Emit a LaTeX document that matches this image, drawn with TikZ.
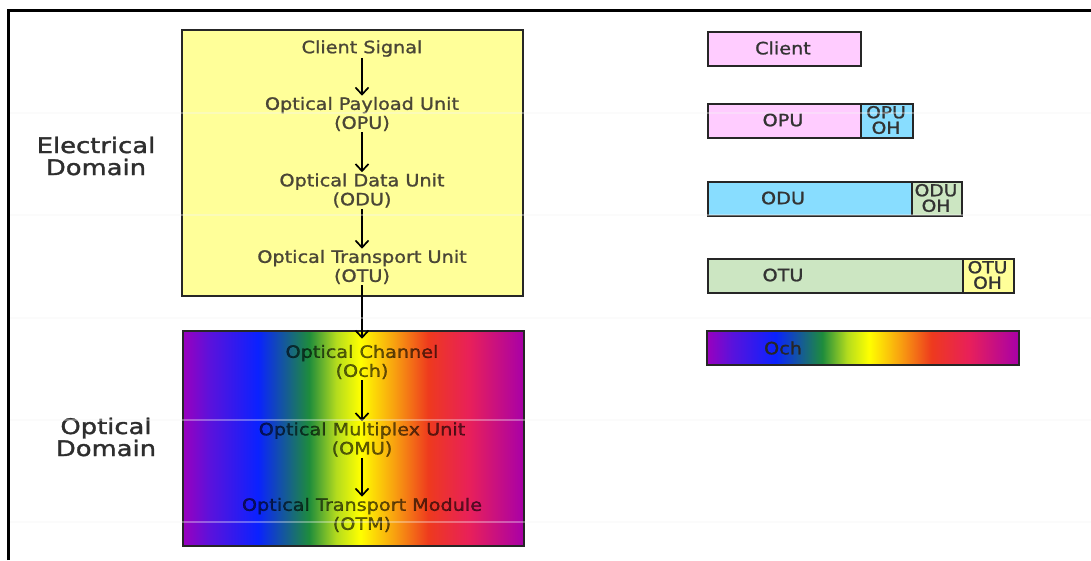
\documentclass[tikz,border=0pt]{standalone}
\usepackage{fontspec}
\setmainfont{DejaVu Sans}[FakeStretch=1.13, FakeBold=1.2]
\newfontfamily\domainfont{DejaVu Sans}[FakeStretch=1.2, FakeBold=1.5]
\usetikzlibrary{arrows.meta}

% palette
\definecolor{boxyellow}{HTML}{FFFF99}
\definecolor{clientpink}{HTML}{FFCCFF}
\definecolor{odublue}{HTML}{88DDFF}
\definecolor{otugreen}{HTML}{CCE6C2}
\definecolor{inktext}{HTML}{4A4636}
% spectrum stops
\definecolor{spPurple}{HTML}{9A00BE}
\definecolor{spViolet}{HTML}{5A12DC}
\definecolor{spBlue}{HTML}{0A22FF}
\definecolor{spGreen}{HTML}{1E8C3C}
\definecolor{spLime}{HTML}{B4DC1E}
\definecolor{spYellow}{HTML}{FFFF00}
\definecolor{spOrange}{HTML}{F8A010}
\definecolor{spRed}{HTML}{EE3A1E}
\definecolor{spRose}{HTML}{E8205A}
\definecolor{spMagenta}{HTML}{A800A8}

\pgfdeclarehorizontalshading{spectrum}{100bp}{%
  color(0bp)=(spPurple); color(25bp)=(spPurple); color(29bp)=(spViolet);
  color(36bp)=(spBlue); color(43.5bp)=(spGreen); color(47.5bp)=(spLime);
  color(51bp)=(spYellow); color(56bp)=(spOrange); color(61bp)=(spRed);
  color(67bp)=(spRose); color(75bp)=(spMagenta); color(100bp)=(spMagenta)}

\tikzset{
  box/.style={draw=black!85, line width=1.8pt, inner sep=0pt, anchor=north west},
  stage/.style={inner sep=0pt, align=center, font=\fontsize{17}{19}\selectfont, text=inktext},
  optext/.style={text=black, text opacity=0.6},
  flow/.style={line width=1.7pt, shorten <=1pt, shorten >=1pt,
    -{Straight Barb[length=7pt,width=13pt]}},
  domlabel/.style={inner sep=0pt, align=center,
    font=\domainfont\fontsize{21.5}{22}\selectfont, text=black!82},
  tag/.style={inner sep=0pt, font=\fontsize{17}{19}\selectfont, text=black!80},
  ohtag/.style={inner sep=0pt, align=center, font=\fontsize{16.5}{15.5}\selectfont, text=black!80},
}

\begin{document}
\begin{tikzpicture}[x=1pt,y=-1pt]
\useasboundingbox (0,0) rectangle (1091,560);
\fill[white] (0,0) rectangle (1091,560);

% outer frame
\draw[line width=2.6pt] (8.5,560) |- (1091,10.5);

% domain labels
\node[domlabel] (elec) at (96,156) {Electrical\\Domain};
\node[domlabel] (optd) at (106,437) {Optical\\Domain};

% electrical domain block
\node[box, fill=boxyellow, minimum width=341pt, minimum height=266pt] (ebox) at (181,29) {};
% optical domain block
\node[box, shade, shading=spectrum, minimum width=341pt, minimum height=215pt] (obox) at (182,330) {};

% layer stack
\node[stage] (cs)  at (362,48.5)  {Client Signal};
\node[stage] (opu) at (362,114)   {Optical Payload Unit\\(OPU)};
\node[stage] (odu) at (362,190.5) {Optical Data Unit\\(ODU)};
\node[stage] (otu) at (362,267)   {Optical Transport Unit\\(OTU)};
\node[stage,optext] (och) at (362,362)   {Optical Channel\\(Och)};
\node[stage,optext] (omu) at (362,439.5) {Optical Multiplex Unit\\(OMU)};
\node[stage,optext] (otm) at (362,515)   {Optical Transport Module\\(OTM)};

\draw[flow] (cs) -- (opu);
\draw[flow] (opu) -- (odu);
\draw[flow] (odu) -- (otu);
\draw[flow, shorten >=6pt] (otu) -- (och);
\draw[flow] (och) -- (omu);
\draw[flow] (omu) -- (otm);

% frame structures
\node[box, fill=clientpink, minimum width=153pt, minimum height=34pt] (clientbar) at (707,31) {};
\node[tag] (clienttxt) at (783,48) {Client};

\node[box, fill=clientpink, minimum width=153pt, minimum height=34pt] (opubar) at (707,103) {};
\node[box, fill=odublue, minimum width=52pt, minimum height=34pt] (opuoh) at (860,103) {};
\node[tag] (oputxt) at (783,120) {OPU};
\node[ohtag] (opuohtxt) at (886,120) {OPU\\OH};

\node[box, fill=odublue, minimum width=204pt, minimum height=34pt] (odubar) at (707,181) {};
\node[box, fill=otugreen, minimum width=50pt, minimum height=34pt] (oduoh) at (911,181) {};
\node[tag] (odutxt) at (783,198) {ODU};
\node[ohtag] (oduohtxt) at (936,198) {ODU\\OH};

\node[box, fill=otugreen, minimum width=255pt, minimum height=34pt] (otubar) at (707,258) {};
\node[box, fill=boxyellow, minimum width=51pt, minimum height=34pt] (otuoh) at (962,258) {};
\node[tag] (otutxt) at (783,275) {OTU};
\node[ohtag] (otuohtxt) at (987.5,275) {OTU\\OH};

\node[box, shade, shading=spectrum, minimum width=312pt, minimum height=34pt] (ochbar) at (706,330) {};
\node[tag, text=black!85] (ochtxt) at (783,348) {Och};

% faint ruling
\foreach \yy in {113,215,318,420,522}
  \draw[black!4, opacity=0.35, line width=1.2pt] (10,\yy) -- (1091,\yy);
\end{tikzpicture}
\end{document}
